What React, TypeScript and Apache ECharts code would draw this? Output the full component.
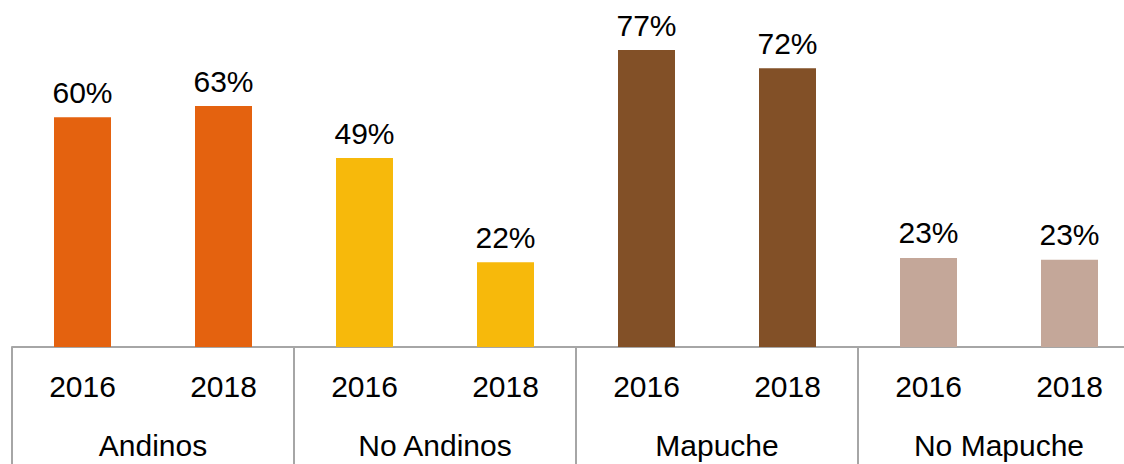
import React, { useEffect, useRef } from "react";
import * as echarts from "echarts";

const years = ["2016", "2018", "2016", "2018", "2016", "2018", "2016", "2018"];
const groups = ["Andinos", "No Andinos", "Mapuche", "No Mapuche"];
const values = [59.6, 62.5, 49.0, 22.0, 77.0, 72.3, 23.1, 22.6];
const groupColors = ["#E4620F", "#F7B90B", "#825027", "#C4A799"];

const FONT = "'Liberation Sans Narrow', 'Arial Narrow', 'Liberation Sans', Arial, sans-serif";

export default function App() {
  const ref = useRef<HTMLDivElement>(null);
  useEffect(() => {
    if (!ref.current) return;
    const chart = echarts.init(ref.current, null, { renderer: "svg" });
    chart.setOption({
      animation: false,
      grid: { left: 12, right: 0, top: 0, bottom: 117, containLabel: false, outerBoundsMode: "none" },
      xAxis: [
        {
          type: "category",
          data: years,
          position: "bottom",
          axisLine: { show: true, lineStyle: { color: "#A6A6A6", width: 2 } },
          axisTick: { show: false },
          axisLabel: { color: "#000", fontSize: 30, fontFamily: FONT, margin: 24 },
        },
        {
          type: "category",
          data: groups,
          position: "bottom",
          axisLine: { show: false },
          axisTick: { show: true, length: 118, lineStyle: { color: "#A6A6A6", width: 2 } },
          axisLabel: { color: "#000", fontSize: 30, fontFamily: FONT, margin: 83 },
        },
      ],
      yAxis: { type: "value", min: 0, max: 90, show: false, splitLine: { show: false } },
      series: [
        {
          type: "bar",
          xAxisIndex: 0,
          barWidth: 57,
          data: values.map((v, i) => ({
            value: v,
            itemStyle: { color: groupColors[Math.floor(i / 2)] },
          })),
          label: {
            show: true,
            position: "top",
            distance: 10,
            color: "#000",
            fontSize: 30,
            fontFamily: FONT,
            formatter: (p: any) => Math.round(p.value) + "%",
          },
        },
      ],
    });
    return () => chart.dispose();
  }, []);
  return (
    <div style={{ position: "fixed", left: 0, top: 0, width: 1124, height: 464, overflow: "hidden", background: "#fff" }}>
      <div ref={ref} style={{ width: 1140, height: 464 }} />
    </div>
  );
}
